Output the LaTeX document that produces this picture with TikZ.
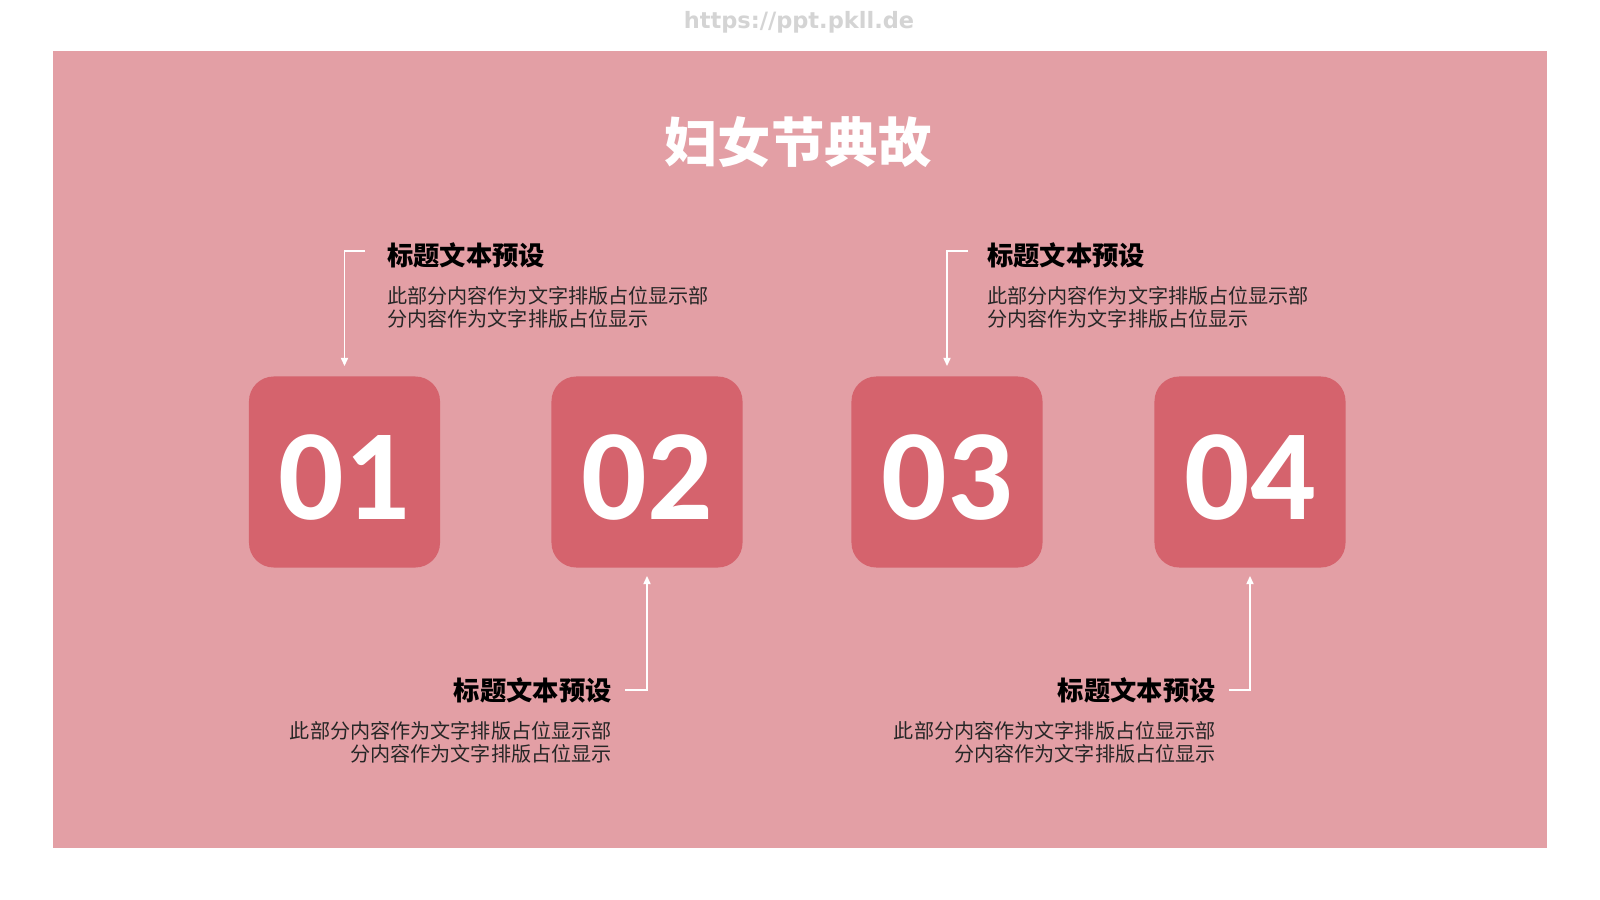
\documentclass[tikz,border=0pt]{standalone}
\usepackage{fontspec}
\usepackage{xcolor}
\usepackage{tikz}
\setmainfont{Carlito}
\newfontfamily\cjk{Noto Sans CJK SC}
\newfontfamily\urlfont{DejaVu Sans}
\usetikzlibrary{calc}
\usetikzlibrary{arrows.meta}
\definecolor{bgpink}{HTML}{E39FA5}
\definecolor{boxred}{HTML}{D5636D}
\newcommand{\numtext}[1]{\raisebox{-1.175cm}[0pt][0pt]{#1}}

\begin{document}
\begin{tikzpicture}[x=0.025cm, y=-0.025cm, every node/.style={inner sep=0pt},
  numbox/.style={rectangle, rounded corners=0.62cm, fill=boxred, minimum size=4.775cm, text=white, font=\bfseries\fontsize{92}{92}\selectfont},
  headtext/.style={font=\cjk\bfseries\fontsize{18.7}{22}\selectfont, text=black},
  bodytext/.style={font=\cjk\fontsize{14.3}{16.4}\selectfont, text=black!85},
  link/.style={draw=white, line width=1.4pt, -{Triangle[length=6pt, width=5pt]}}]
  \fill[white] (0,0) rectangle (1600,900);
  \useasboundingbox (0,0) rectangle (1600,900);
  \fill[bgpink] (53,51) rectangle (1547,848);
  \node[font=\urlfont\bfseries\fontsize{16}{16}\selectfont, text=black!17] (url) at (799,22) {https://ppt.pkll.de};
  \node[font=\cjk\bfseries\fontsize{38}{40}\selectfont, text=white] (title) at (798,142) {妇女节典故};
  \node[numbox] (b1) at (344.5,472) {\numtext{01}};
  \node[numbox] (b2) at (647,472) {\numtext{02}};
  \node[numbox] (b3) at (947,472) {\numtext{03}};
  \node[numbox] (b4) at (1250,472) {\numtext{04}};
  \node[headtext, anchor=west] (h1) at (387,255) {标题文本预设};
  \node[bodytext, anchor=west, align=left] (d1) at (387,307.5) {此部分内容作为文字排版占位显示部\\分内容作为文字排版占位显示};
  \node[headtext, anchor=east] (h2) at (612,690) {标题文本预设};
  \node[bodytext, anchor=east, align=right] (d2) at (612,742) {此部分内容作为文字排版占位显示部\\分内容作为文字排版占位显示};
  \node[headtext, anchor=west] (h3) at (987,255) {标题文本预设};
  \node[bodytext, anchor=west, align=left] (d3) at (987,307.5) {此部分内容作为文字排版占位显示部\\分内容作为文字排版占位显示};
  \node[headtext, anchor=east] (h4) at (1216,690) {标题文本预设};
  \node[bodytext, anchor=east, align=right] (d4) at (1216,742) {此部分内容作为文字排版占位显示部\\分内容作为文字排版占位显示};
  \coordinate (a1) at ($(h1.west)+(-22,-4)$);
  \coordinate (a2) at ($(h2.east)+(13,0)$);
  \coordinate (a3) at ($(h3.west)+(-19,-4)$);
  \coordinate (a4) at ($(h4.east)+(13,0)$);
  \draw[link] (a1) -| ($(b1.north)+(0,-10)$);
  \draw[link] (a2) -| ($(b2.south)+(0,8)$);
  \draw[link] (a3) -| ($(b3.north)+(0,-10)$);
  \draw[link] (a4) -| ($(b4.south)+(0,8)$);
\end{tikzpicture}
\end{document}
